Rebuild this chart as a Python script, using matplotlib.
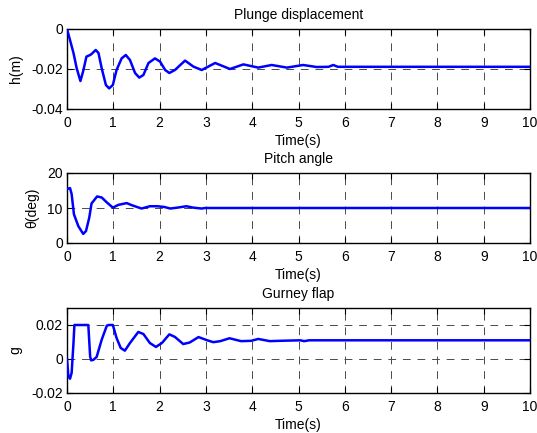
import matplotlib
matplotlib.use("Agg")
import matplotlib.pyplot as plt

plt.rcParams['font.family'] = ['Liberation Sans', 'DejaVu Sans']

# Plunge displacement
t_h = [0, 0.065, 0.14, 0.21, 0.29, 0.35, 0.42, 0.50, 0.53, 0.62, 0.68, 0.75, 0.84, 0.91, 0.99,
       1.07, 1.18, 1.27, 1.36, 1.47, 1.56, 1.65, 1.76, 1.90, 2.01, 2.12, 2.21, 2.33, 2.55, 2.73,
       2.91, 3.2, 3.52, 3.81, 4.13, 4.42, 4.75, 5.1, 5.39, 5.65, 5.75, 5.85, 10]
h = [0, -0.0055, -0.012, -0.0197, -0.026, -0.021, -0.0138, -0.013, -0.0125, -0.0105, -0.012,
     -0.0197, -0.028, -0.0297, -0.028, -0.0205, -0.0147, -0.013, -0.0155, -0.022, -0.0243,
     -0.023, -0.017, -0.0147, -0.0163, -0.0205, -0.022, -0.0205, -0.0158, -0.0188, -0.0205,
     -0.017, -0.020, -0.0177, -0.0193, -0.018, -0.0193, -0.018, -0.019, -0.0189, -0.018,
     -0.0189, -0.0189]

# Pitch angle
t_p = [0, 0.065, 0.10, 0.15, 0.245, 0.35, 0.41, 0.48, 0.53, 0.65, 0.75, 0.86, 0.99, 1.11, 1.29,
       1.40, 1.61, 1.79, 1.95, 2.10, 2.23, 2.38, 2.58, 2.73, 2.91, 2.98, 10]
theta = [15.4, 15.7, 14.0, 8.2, 4.8, 2.6, 3.4, 7.2, 11.3, 13.3, 13.0, 11.6, 10.1, 10.9, 11.4,
         10.8, 9.85, 10.5, 10.5, 10.3, 9.85, 10.1, 10.5, 10.1, 9.85, 10.0, 10.0]

# Gurney flap
t_g = [0, 0.03, 0.065, 0.10, 0.14, 0.16, 0.46, 0.50, 0.52, 0.57, 0.64, 0.75, 0.86, 0.90, 0.99,
       1.07, 1.16, 1.25, 1.36, 1.54, 1.65, 1.79, 1.92, 2.05, 2.21, 2.33, 2.51, 2.65, 2.84, 3.03,
       3.16, 3.31, 3.51, 3.76, 3.98, 4.13, 4.38, 4.60, 5.04, 5.12, 5.23, 10]
g = [0, -0.0102, -0.0116, -0.0082, 0.0094, 0.02, 0.02, 0.0015, -0.0008, -0.0005, 0.0012, 0.0114,
     0.0196, 0.02, 0.02, 0.0124, 0.0065, 0.0049, 0.0094, 0.0159, 0.0147, 0.0094, 0.0071, 0.0094,
     0.0145, 0.013, 0.0088, 0.0097, 0.0129, 0.011, 0.0099, 0.0105, 0.0122, 0.0105, 0.0107,
     0.0118, 0.0105, 0.0107, 0.011, 0.0105, 0.011, 0.011]

x_ticks = list(range(0, 11))

fig = plt.figure(figsize=(5.37, 4.33), dpi=100)
W, H = 537, 433
def pos(l, r, t, b):
    return [l / W, 1 - b / H, (r - l) / W, (b - t) / H]

ax1 = fig.add_axes(pos(67, 530, 29, 109))
ax2 = fig.add_axes(pos(67, 530, 173, 243))
ax3 = fig.add_axes(pos(67, 530, 308, 393))

specs = [
    (ax1, t_h, h, (-0.04, 0), [-0.04, -0.02, 0], ['-0.04', '-0.02', '0'], 'h(m)', 'Plunge displacement'),
    (ax2, t_p, theta, (0, 20), [0, 10, 20], ['0', '10', '20'], 'θ(deg)', 'Pitch angle'),
    (ax3, t_g, g, (-0.02, 0.03), [-0.02, 0, 0.02], ['-0.02', '0', '0.02'], 'g', 'Gurney flap'),
]

FS = 10
for ax, x, y, ylim, yt, ytl, ylab, title in specs:
    ax.plot(x, y, color='#0000ff', lw=1.8, zorder=3)
    ax.set_xlim(0, 10)
    ax.set_ylim(*ylim)
    ax.set_xticks(x_ticks)
    ax.set_xticklabels([str(v) for v in x_ticks])
    ax.set_yticks(yt)
    ax.set_yticklabels(ytl)
    ax.tick_params(direction='in', top=True, right=True, length=4, width=0.8,
                   labelsize=FS, colors='black')
    ax.tick_params(axis='x', pad=5)
    ax.tick_params(axis='y', pad=3)
    ax.grid(True, linestyle=(0, (8, 7)), color='#4a4a4a', linewidth=0.7, zorder=1)
    ax.set_axisbelow(True)
    for sp in ax.spines.values():
        sp.set_linewidth(1.0)
    ax.set_xlabel('Time(s)', fontsize=FS, labelpad=3)
    ax.set_ylabel(ylab, fontsize=FS, labelpad=6)
    ax.set_title(title, fontsize=FS, pad=7)

fig.savefig('out.png', dpi=100)
